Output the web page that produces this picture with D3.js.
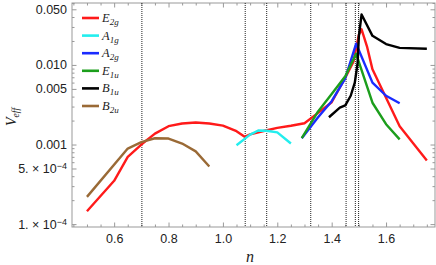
<!DOCTYPE html>
<html>
<head>
<meta charset="utf-8">
<script src="https://cdn.jsdelivr.net/npm/d3@7"></script>
<style>
	body { margin: 0; background: #fff; }
	.tick text { font-family: 'Liberation Sans', Arial, sans-serif; font-size: 12.5px; fill: #222; }
	.axis path { display: none; }
	.axis line { stroke: #999; }
	.lbl { font-family: 'Liberation Serif', 'Times New Roman', serif; font-style: italic; fill: #222; }
</style>
</head>
<body>
<div id="chart"></div>
<script>
	// Data.
	const e2gN = [0.5, 0.6, 0.65, 0.7, 0.75, 0.8, 0.85, 0.9, 0.95, 1.0, 1.05, 1.08, 1.1, 1.15, 1.2, 1.25, 1.3, 1.35, 1.4, 1.45, 1.48, 1.5, 1.51, 1.53, 1.55, 1.65, 1.75];
	const e2gV = [1.45e-4, 3.5e-4, 7.0e-4, 1.0e-3, 1.37e-3, 1.7e-3, 1.84e-3, 1.89e-3, 1.84e-3, 1.73e-3, 1.47e-3, 1.25e-3, 1.34e-3, 1.48e-3, 1.62e-3, 1.72e-3, 1.85e-3, 2.5e-3, 3.4e-3, 6.9e-3, 0.011, 0.024, 0.028, 0.017, 0.0088, 0.0017, 6.3e-4];
	const a1gN = [1.05, 1.1, 1.13, 1.16, 1.2, 1.25];
	const a1gV = [9.8e-4, 1.33e-3, 1.5e-3, 1.49e-3, 1.42e-3, 1.03e-3];
	const a2gN = [1.29, 1.35, 1.4, 1.45, 1.49, 1.55, 1.6, 1.65];
	const a2gV = [1.2e-3, 2.2e-3, 3.5e-3, 6.8e-3, 0.0185, 6.0e-3, 4.1e-3, 3.3e-3];
	const e1uN = [1.29, 1.35, 1.4, 1.45, 1.49, 1.55, 1.6, 1.65];
	const e1uV = [1.2e-3, 2.6e-3, 4.3e-3, 7.2e-3, 0.0138, 3.35e-3, 1.8e-3, 1.16e-3];
	const b1uN = [1.39, 1.43, 1.45, 1.47, 1.485, 1.495, 1.5, 1.51, 1.55, 1.6, 1.65, 1.75];
	const b1uV = [2.2e-3, 2.9e-3, 3.1e-3, 4.1e-3, 6.0e-3, 0.0102, 0.023, 0.043, 0.0232, 0.0183, 0.0164, 0.016];
	const b2uN = [0.5, 0.65, 0.7, 0.75, 0.8, 0.85, 0.9, 0.95];
	const b2uV = [2.2e-4, 8.9e-4, 1.07e-3, 1.2e-3, 1.19e-3, 1.03e-3, 8.2e-4, 5.3e-4];
	const markerN = [0.702, 1.082, 1.161, 1.323, 1.453, 1.487, 1.499];

	const xMajor = [0.6, 0.8, 1.0, 1.2, 1.4, 1.6];
	const yMajor = [0.05, 0.01, 0.005, 0.001, 5e-4, 1e-4];

	const series = [
		{ base: 'E', sub: '2g', color: '#ff1a1a', n: e2gN, v: e2gV },
		{ base: 'A', sub: '1g', color: '#22eeee', n: a1gN, v: a1gV },
		{ base: 'A', sub: '2g', color: '#1a2bff', n: a2gN, v: a2gV },
		{ base: 'E', sub: '1u', color: '#1c9e1c', n: e1uN, v: e1uV },
		{ base: 'B', sub: '1u', color: '#000000', n: b1uN, v: b1uV },
		{ base: 'B', sub: '2u', color: '#9a6a36', n: b2uN, v: b2uV },
	];

	const margin = {top: 3, right: 1, bottom: 38, left: 72};
	const W = 436, H = 265;
	const width = W - margin.left - margin.right;
	const height = H - margin.top - margin.bottom;

	const svg = d3.select('#chart').append('svg')
		.attr('width', W).attr('height', H)
	.append('g')
		.attr('transform', 'translate(' + margin.left + ',' + margin.top + ')');

	const x = d3.scaleLinear().domain([0.445, 1.78]).range([0, width]);
	const y = d3.scaleLog().domain([9.2e-5, 0.06]).range([height, 0]);

	// minor ticks
	const xMinor = d3.range(0.45, 1.78, 0.05).filter(v => !xMajor.some(m => Math.abs(m - v) < 1e-6));
	const yMinor = [];
	[1e-4, 1e-3, 1e-2].forEach(d => { for (let k = 1; k <= 9; k++) yMinor.push(k * d); });
	const yMinorOnly = yMinor.filter(v => v >= 9.2e-5 && v <= 0.06 && !yMajor.some(m => Math.abs(m - v) / m < 1e-6));

	function fmtY(v) {
		if (v >= 0.001) return d3.format('.3f')(v);
		return null;
	}

	// bottom / top
	svg.append('g').attr('class', 'axis').attr('transform', 'translate(0,' + height + ')')
		.call(d3.axisBottom(x).tickValues(xMajor).tickSize(-4.5).tickPadding(7).tickFormat(d3.format('.1f')));
	svg.append('g').attr('class', 'axis').attr('transform', 'translate(0,' + height + ')')
		.call(d3.axisBottom(x).tickValues(xMinor).tickSize(-2.5).tickFormat(''));
	svg.append('g').attr('class', 'axis')
		.call(d3.axisTop(x).tickValues(xMajor).tickSize(-4.5).tickFormat(''));
	svg.append('g').attr('class', 'axis')
		.call(d3.axisTop(x).tickValues(xMinor).tickSize(-2.5).tickFormat(''));

	// left / right
	const yAx = svg.append('g').attr('class', 'axis')
		.call(d3.axisLeft(y).tickValues(yMajor).tickSize(-4.5).tickPadding(5).tickFormat(v => fmtY(v) || ''));
	yAx.selectAll('.tick text').filter(v => v < 0.001).each(function (v) {
		const t = d3.select(this);
		const m = Math.round(v / Math.pow(10, Math.floor(Math.log10(v) + 1e-9)));
		const e = Math.floor(Math.log10(v) + 1e-9);
		t.append('tspan').text(m + '. \u00d7 10');
		t.append('tspan').attr('dy', '-0.45em').attr('font-size', '9px').text('\u2212' + Math.abs(e));
	});
	svg.append('g').attr('class', 'axis')
		.call(d3.axisLeft(y).tickValues(yMinorOnly).tickSize(-2.5).tickFormat(''));
	svg.append('g').attr('class', 'axis').attr('transform', 'translate(' + width + ',0)')
		.call(d3.axisRight(y).tickValues(yMajor).tickSize(-4.5).tickFormat(''));
	svg.append('g').attr('class', 'axis').attr('transform', 'translate(' + width + ',0)')
		.call(d3.axisRight(y).tickValues(yMinorOnly).tickSize(-2.5).tickFormat(''));

	// frame
	svg.append('rect').attr('width', width).attr('height', height)
		.attr('fill', 'none').attr('stroke', '#999').attr('stroke-width', 1);

	// vertical dotted markers
	svg.append('g').selectAll('line').data(markerN).join('line')
		.attr('x1', d => x(d)).attr('x2', d => x(d))
		.attr('y1', 0).attr('y2', height)
		.attr('stroke', '#222').attr('stroke-width', 1).attr('stroke-dasharray', '1,1');

	// curves
	const line = d3.line().x(d => x(d[0])).y(d => y(d[1]));
	svg.append('g').selectAll('path').data(series).join('path')
		.attr('d', s => line(s.n.map((n, i) => [n, s.v[i]])))
		.attr('fill', 'none')
		.attr('stroke', s => s.color)
		.attr('stroke-width', 2.4)
		.attr('stroke-linejoin', 'round');

	// legend
	const leg = svg.append('g').attr('transform', 'translate(10,15)');
	series.forEach((s, i) => {
		const g = leg.append('g').attr('transform', 'translate(0,' + (i * 17.6) + ')');
		g.append('line').attr('x1', 0).attr('x2', 17).attr('stroke', s.color).attr('stroke-width', 2.6);
		const t = g.append('text').attr('class', 'lbl').attr('x', 20).attr('y', 4).attr('font-size', '12.5px');
		t.append('tspan').text(s.base);
		t.append('tspan').attr('dy', '3').attr('font-size', '9px').text(s.sub);
	});

	// axis labels
	const yl = svg.append('text').attr('class', 'lbl')
		.attr('transform', 'translate(' + (16 - margin.left) + ',' + (117 - margin.top) + ') rotate(-90)')
		.attr('text-anchor', 'middle').attr('font-size', '14px');
	yl.append('tspan').text('V');
	yl.append('tspan').attr('dy', '3').attr('font-size', '9.5px').text('eff');

	svg.append('text').attr('class', 'lbl')
		.attr('x', 250 - margin.left).attr('y', 262 - margin.top)
		.attr('text-anchor', 'middle').attr('font-size', '16px').text('n');
</script>
</body>
</html>
